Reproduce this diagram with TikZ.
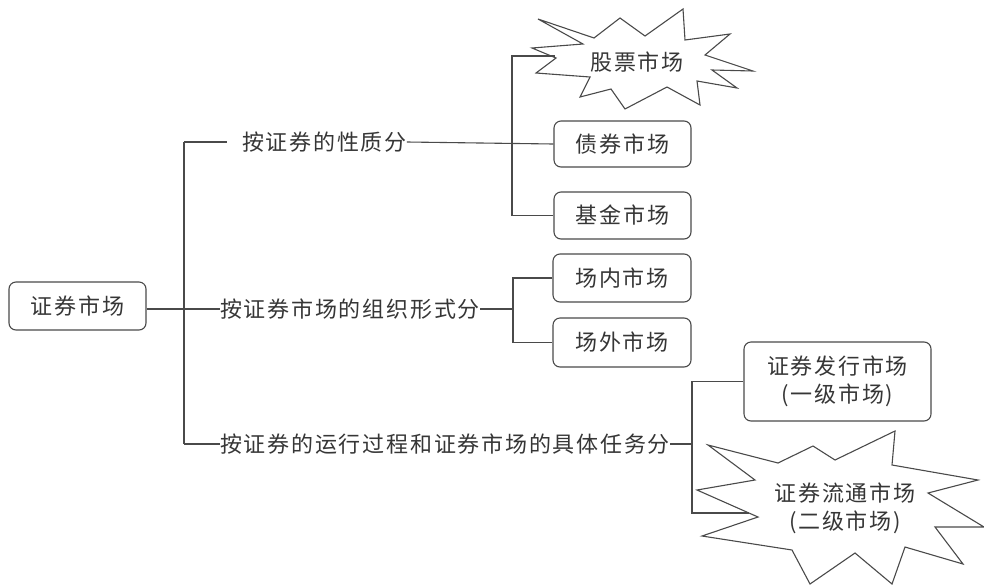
\documentclass[tikz,border=0pt]{standalone}
\usepackage{fontspec}
\newfontfamily\cjk[LetterSpace=8]{Noto Sans CJK SC}
\definecolor{ln}{HTML}{4A4A4A}
\definecolor{tx}{HTML}{363636}
\begin{document}
\begin{tikzpicture}[x=1pt,y=-1pt,
  every node/.style={font=\cjk\fontsize{22}{28}\selectfont, text=tx},
  box/.style={draw=ln, line width=1.1pt, rounded corners=7pt, inner sep=0pt, align=center},
  lab/.style={inner sep=0pt, anchor=west},
  conn/.style={draw=ln, line width=1.1pt},
  burst/.style={draw=ln, line width=1.1pt, line join=miter}]
\useasboundingbox[fill=white] (0,0) rectangle (984,584);

% root and branch labels
\node[box, minimum width=137pt, minimum height=48pt] (root) at (77.5,306) {证券市场};
\node[lab] (b1) at (242,142) {按证券的性质分};
\node[lab] (b2) at (220,309) {按证券市场的组织形式分};
\node[lab] (b3) at (220,444) {按证券的运行过程和证券市场的具体任务分};

% leaves
\draw[burst] (538,19) -- (594,38) -- (620,18) -- (645,36) -- (683,9) -- (685,40)
  -- (730,34) -- (705,55) -- (753,71) -- (712,70) -- (737,88) -- (697,81)
  -- (700,105) -- (667,87) -- (625,109) -- (611,89) -- (580,97) -- (590,77)
  -- (536,73) -- (556,58) -- (532,48) -- (583,44) -- cycle;
\node (c1) at (637,62) {股票市场};
\coordinate (c1w) at (555,56);

\node[box, minimum width=137pt, minimum height=46pt] (c2) at (622.5,144) {债券市场};
\node[box, minimum width=137pt, minimum height=47pt] (c3) at (622.5,215.5) {基金市场};
\node[box, minimum width=138pt, minimum height=48pt] (c4) at (622,278) {场内市场};
\node[box, minimum width=138pt, minimum height=49pt] (c5) at (622,342.5) {场外市场};
\node[box, minimum width=187pt, minimum height=79pt] (c6) at (837.5,381.5) {证券发行市场\\(一级市场)};

\draw[burst] (708,445) -- (778,463) -- (813,446) -- (835,460) -- (895,431) -- (892,465)
  -- (978,480) -- (928,493) -- (984,527) -- (935,527) -- (963,564) -- (905,547)
  -- (892,584) -- (855,553) -- (810,584) -- (792,550) -- (702,536) -- (758,517)
  -- (697,490) -- (755,480) -- cycle;
\node[align=center] (c7) at (845,508) {证券流通市场\\(二级市场)};
\coordinate (c7w) at (749,513);

% junctions
\coordinate (j0t) at (184,142);
\coordinate (j0) at (184,309);
\coordinate (j0b) at (184,444);
\coordinate (j1) at (512,142);
\coordinate (j2) at (513,309);
\coordinate (j3) at (692,444);

% connectors
\draw[conn] (root.east |- j0) -- (j0);
\draw[conn] (j0t) -- (j0b);
\draw[conn, shorten >=15pt] (j0t) -- (b1.west);
\draw[conn] (j0) -- (b2.west);
\draw[conn] (j0b) -- (b3.west);

\draw[conn] (b1.east) -- (c2.west);
\draw[conn] (c1w) -| (j1) |- (c3.west);

\draw[conn] (b2.east) -- (j2);
\draw[conn] (c4.west) -| (j2) |- (c5.west);

\draw[conn] (b3.east) -- (j3);
\draw[conn] (c6.west) -| (j3) |- (c7w);
\end{tikzpicture}
\end{document}
